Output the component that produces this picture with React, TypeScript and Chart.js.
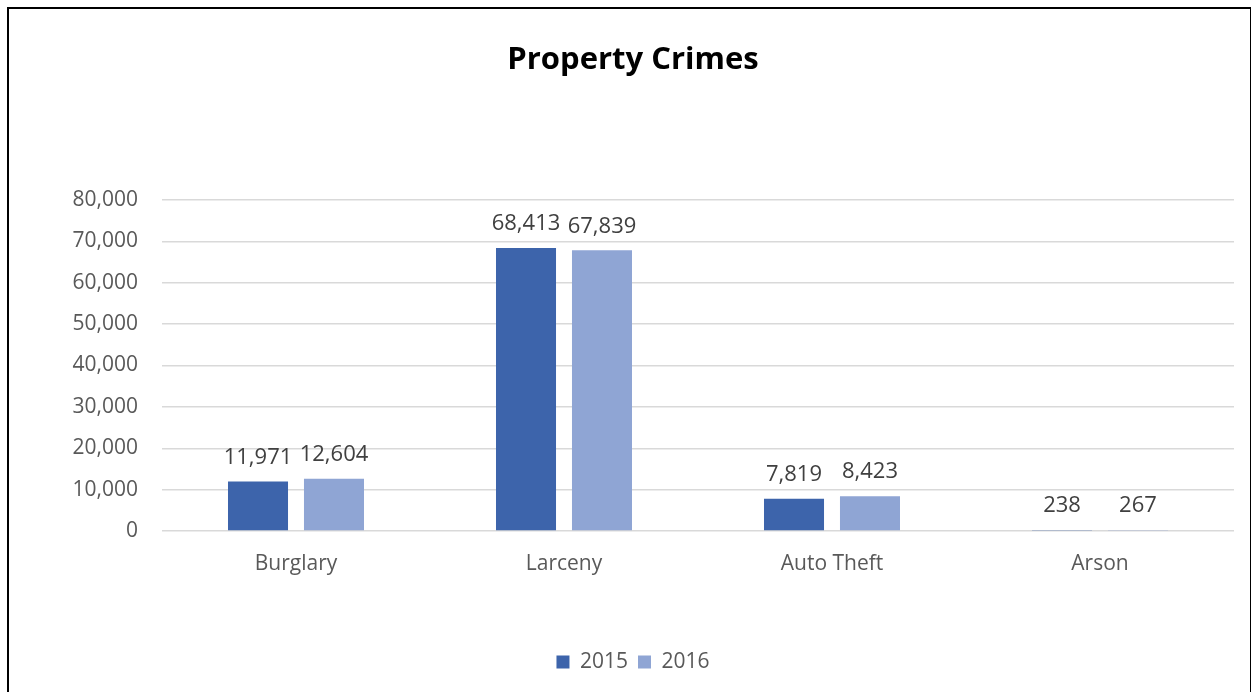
import React, { useEffect, useRef } from "react";
import { Chart, registerables } from "chart.js";

Chart.register(...registerables);

const categories = ["Burglary", "Larceny", "Auto Theft", "Arson"];
const series2015 = [11971, 68413, 7819, 238];
const series2016 = [12604, 67839, 8423, 267];
const seriesNames = ["2015", "2016"];
const chartTitle = "Property Crimes";

const FONT = '"Open Sans", "Noto Sans", sans-serif';

const dataLabelPlugin = {
  id: "dataLabels",
  afterDatasetsDraw(chart: any) {
    const ctx = chart.ctx;
    ctx.save();
    ctx.font = `22px ${FONT}`;
    ctx.fillStyle = "#404040";
    ctx.textAlign = "center";
    ctx.textBaseline = "middle";
    chart.data.datasets.forEach((ds: any, i: number) => {
      const meta = chart.getDatasetMeta(i);
      meta.data.forEach((bar: any, j: number) => {
        const v = ds.data[j] as number;
        ctx.fillText(v.toLocaleString("en-US"), bar.x, bar.y - 24);
      });
    });
    ctx.restore();
  },
};

export default function App() {
  const ref = useRef<HTMLCanvasElement | null>(null);

  useEffect(() => {
    let chart: Chart | null = null;
    let cancelled = false;
    const make = () => {
      if (cancelled || !ref.current) return;
      chart = new Chart(ref.current, {
        type: "bar",
        data: {
          labels: categories,
          datasets: [
            {
              label: seriesNames[0],
              data: series2015,
              backgroundColor: "#3D64AB",
              categoryPercentage: 0.567,
              barPercentage: 0.79,
            },
            {
              label: seriesNames[1],
              data: series2016,
              backgroundColor: "#8FA5D4",
              categoryPercentage: 0.567,
              barPercentage: 0.79,
            },
          ],
        },
        options: {
          animation: false,
          responsive: false,
          maintainAspectRatio: false,
          layout: { padding: { left: 32, right: 18, top: 0, bottom: 9.5 } },
          plugins: {
            title: {
              display: true,
              text: chartTitle,
              color: "#000000",
              font: { family: FONT, size: 31, weight: "bold", lineHeight: 1.2 },
              padding: { top: 41.4, bottom: 121.4 },
            },
            legend: {
              display: true,
              position: "bottom",
              labels: {
                boxWidth: 13,
                boxHeight: 13,
                padding: 10,
                color: "#595959",
                font: { family: FONT, size: 21 },
              },
            },
            tooltip: { enabled: false },
          },
          scales: {
            x: {
              grid: { display: false, drawTicks: false },
              border: { display: false },
              ticks: {
                color: "#595959",
                font: { family: FONT, size: 21 },
                padding: 20,
              },
              afterFit: (scale: any) => {
                scale.height = 110.5;
              },
            },
            y: {
              min: 0,
              max: 80000,
              grid: { color: "#D9D9D9", lineWidth: 1.5, drawTicks: false },
              border: { display: false },
              ticks: {
                stepSize: 10000,
                color: "#595959",
                font: { family: FONT, size: 21 },
                padding: 24,
                callback: (v: any) => Number(v).toLocaleString("en-US"),
              },
              afterFit: (scale: any) => {
                scale.width = 130;
              },
            },
          },
        },
        plugins: [dataLabelPlugin],
      } as any);
    };
    const fontsReady = (document as any).fonts
      ? Promise.all([
          (document as any).fonts.load(`21px "Open Sans"`),
          (document as any).fonts.load(`bold 31px "Open Sans"`),
        ]).catch(() => null)
      : Promise.resolve();
    fontsReady.then(make);
    return () => {
      cancelled = true;
      if (chart) chart.destroy();
    };
  }, []);

  return (
    <div>
      <canvas
        ref={ref}
        width={1252}
        height={692}
        style={{ position: "fixed", left: 0, top: 0, width: 1252, height: 692, background: "#ffffff" }}
      />
      <div
        style={{
          position: "fixed",
          left: 7,
          top: 7,
          width: 1244,
          height: 700,
          boxSizing: "border-box",
          borderLeft: "2px solid #000",
          borderTop: "2px solid #000",
          borderRight: "1px solid #000",
          pointerEvents: "none",
        }}
      />
    </div>
  );
}
